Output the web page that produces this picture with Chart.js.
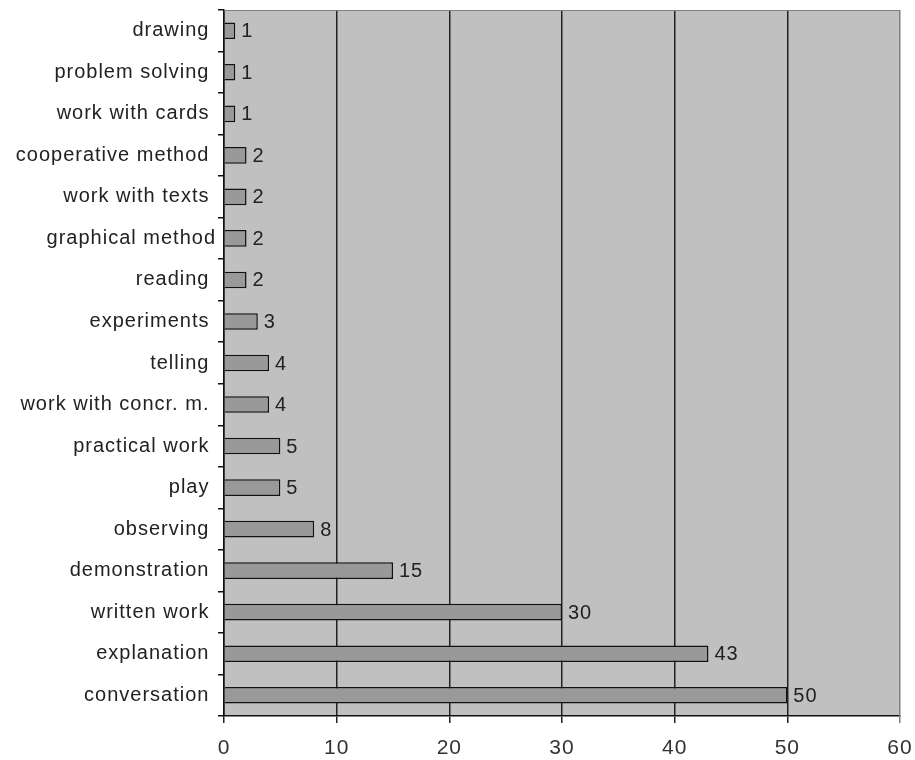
<!DOCTYPE html>
<html>
<head>
<meta charset="utf-8">
<script src="https://cdn.jsdelivr.net/npm/chart.js@4"></script>
<style>
  body { margin: 0; background: #fff; }
  #wrap { width: 915px; height: 760px; }
</style>
</head>
<body>
<div id="wrap"><canvas id="methodsChart"></canvas></div>
<script>
// categories, top to bottom
const methods = ['drawing ', 'problem solving ', 'work with cards ', 'cooperative method ',
    'work with texts ', 'graphical method', 'reading ', 'experiments ', 'telling ',
    'work with concr. m. ', 'practical work ', 'play ', 'observing ', 'demonstration ',
    'written work ', 'explanation ', 'conversation '];
const counts = [1, 1, 1, 2, 2, 2, 2, 3, 4, 4, 5, 5, 8, 15, 30, 43, 50];
const xTicks = [0, 10, 20, 30, 40, 50, 60];

const FONT = "'Liberation Sans', Arial, sans-serif";

// grey plot area + top border
const plotBackground = {
    id: 'plotBackground',
    beforeDraw(chart) {
        const {ctx, chartArea: a} = chart;
        ctx.letterSpacing = '1px';
        ctx.save();
        ctx.fillStyle = '#c0c0c0';
        ctx.fillRect(a.left, a.top, a.right - a.left, a.bottom - a.top);
        ctx.restore();
    },
    afterDraw(chart) {
        const {ctx, chartArea: a} = chart;
        ctx.save();
        ctx.strokeStyle = '#808080';
        ctx.lineWidth = 1;
        ctx.beginPath();
        ctx.moveTo(a.left, a.top + 0.5);
        ctx.lineTo(a.right, a.top + 0.5);
        ctx.moveTo(a.right - 0.5, a.top);
        ctx.lineTo(a.right - 0.5, a.bottom);
        ctx.stroke();
        ctx.restore();
    }
};

// value labels to the right of each bar
const valueLabels = {
    id: 'valueLabels',
    afterDatasetsDraw(chart) {
        const ctx = chart.ctx;
        const meta = chart.getDatasetMeta(0);
        ctx.save();
        ctx.letterSpacing = '1px';
        ctx.font = '20px ' + FONT;
        ctx.fillStyle = '#222';
        ctx.textAlign = 'left';
        ctx.textBaseline = 'middle';
        meta.data.forEach((bar, i) => {
            ctx.fillText(String(counts[i]), bar.x + 6, bar.y + 1);
        });
        ctx.restore();
    }
};

function initMethodsChart() {
    const ctx = document.getElementById('methodsChart').getContext('2d');
    new Chart(ctx, {
        type: 'bar',
        data: {
            labels: methods,
            datasets: [{
                data: counts,
                backgroundColor: '#999999',
                borderColor: '#111',
                borderWidth: 1.5,
                barPercentage: 0.4,
                categoryPercentage: 1.0
            }]
        },
        options: {
            indexAxis: 'y',
            responsive: true,
            maintainAspectRatio: false,
            animation: false,
            layout: { padding: { top: 10, right: 15, left: 0, bottom: 0 } },
            plugins: {
                legend: { display: false },
                tooltip: { enabled: false }
            },
            scales: {
                x: {
                    min: 0,
                    max: 60,
                    afterBuildTicks(scale) {
                        scale.ticks = xTicks.map(v => ({ value: v }));
                    },
                    afterFit(scale) {
                        scale.height = 44;
                        scale.paddingLeft = 0;
                        scale.paddingRight = 0;
                    },
                    grid: {
                        color: c => (c.tick && c.tick.value === 60) ? '#808080' : '#222',
                        lineWidth: 1.5,
                        tickLength: 7,
                        drawTicks: true
                    },
                    border: { display: true, color: '#111', width: 1.5 },
                    ticks: {
                        color: '#333',
                        font: { family: FONT, size: 21 },
                        padding: 13
                    }
                },
                y: {
                    afterFit(scale) {
                        scale.width = 224;
                        scale.paddingTop = 0;
                        scale.paddingBottom = 0;
                    },
                    grid: {
                        drawOnChartArea: false,
                        tickLength: 6,
                        color: '#111',
                        lineWidth: 1.5
                    },
                    border: { display: true, color: '#111', width: 1.5 },
                    ticks: {
                        color: '#222',
                        font: { family: FONT, size: 20 },
                        padding: 2,
                        autoSkip: false
                    }
                }
            }
        },
        plugins: [plotBackground, valueLabels]
    });
}

window.onload = () => {
    initMethodsChart();
};
</script>
</body>
</html>
